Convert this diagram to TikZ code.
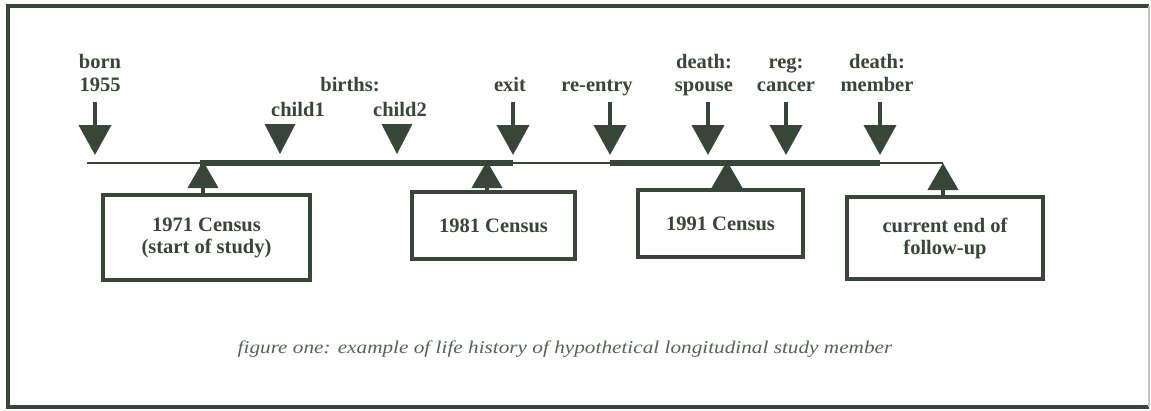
\documentclass[tikz,border=0pt]{standalone}
\usepackage{fontspec}
\setmainfont{Liberation Serif}
\newfontfamily\capfont[FakeStretch=1.18]{Liberation Serif}
\usetikzlibrary{arrows.meta}
\definecolor{ink}{RGB}{56,70,56}
\begin{document}
\begin{tikzpicture}[x=1pt,y=-1pt,
  lbl/.style={font=\fontsize{20.5}{23}\selectfont\bfseries, text=ink, anchor=base, inner sep=0pt},
  box/.style={draw=ink, line width=4pt, fill=white, font=\fontsize{20.5}{22}\selectfont\bfseries, text=ink, align=center, inner sep=0pt},
  darrow/.style={draw=ink, line width=4pt, -{Triangle[width=32pt,length=30pt]}},
  uarrow/.style={draw=ink, line width=4pt, -{Triangle[width=30pt,length=27pt]}},
  thick line/.style={draw=ink, line width=6pt},
  thin line/.style={draw=ink, line width=1.8pt},
  headonly/.style={fill=ink},
  caption/.style={font=\capfont\itshape\fontsize{18}{22}\selectfont, text=ink!85, anchor=base, inner sep=0pt}
]
\useasboundingbox (0,0) rectangle (1151,410);
% frame
\draw[ink, line width=3.5pt] (1149,6) -- (8,6) -- (8,407) -- (1149,407);
\draw[gray!45, line width=1.5pt] (1149,6) -- (1149,407);

% timeline coordinates
\coordinate (tstart) at (87,163);
\coordinate (t71) at (203,163);
\coordinate (t81) at (487,163);
\coordinate (texit) at (513,163);
\coordinate (tre) at (610,163);
\coordinate (t91) at (727,163);
\coordinate (tdeath) at (880,163);
\coordinate (tend) at (943,163);

% timeline
\draw[thin line] (tstart) -- (t71);
\draw[thick line] ([xshift=-3pt]t71) -- (texit);
\draw[thin line, line width=1.4pt] (texit) -- (tre);
\draw[thick line] (tre) -- (tdeath);
\draw[thin line, line width=1.4pt] (tdeath) -- (tend);

% labels
\node[lbl] (born) at (100,68) {born};
\node[lbl] (y1955) at (100,91) {1955};
\node[lbl] (births) at (350,91) {births:};
\node[lbl] (child1) at (298,116) {child1};
\node[lbl] (child2) at (400,116) {child2};
\node[lbl] (exit) at (510,91) {exit};
\node[lbl] (reentry) at (597,91) {re-entry};
\node[lbl] (death1) at (704,68) {death:};
\node[lbl] (spouse) at (704,91) {spouse};
\node[lbl] (reg) at (786,68) {reg:};
\node[lbl] (cancer) at (786,91) {cancer};
\node[lbl] (death2) at (877,68) {death:};
\node[lbl] (member) at (877,91) {member};

% down arrows
\coordinate (aborn) at (95,102);   \coordinate (aborntip) at (95,155);
\coordinate (aexit) at (513,102);  \coordinate (aexittip) at (513,155);
\coordinate (are) at (610,102);    \coordinate (aretip) at (610,155);
\coordinate (asp) at (708,102);    \coordinate (asptip) at (708,155);
\coordinate (aca) at (786,102);    \coordinate (acatip) at (786,155);
\coordinate (ame) at (880,102);    \coordinate (ametip) at (880,155);
\draw[darrow] (aborn) -- (aborntip);
\draw[darrow] (aexit) -- (aexittip);
\draw[darrow] (are) -- (aretip);
\draw[darrow] (asp) -- (asptip);
\draw[darrow] (aca) -- (acatip);
\draw[darrow] (ame) -- (ametip);
% head-only arrows
\coordinate (ac1tip) at (280,154);
\coordinate (ac2tip) at (397,154);
\fill[headonly] (ac1tip) -- ++(-15.5,-30) -- ++(31,0) -- cycle;
\fill[headonly] (ac2tip) -- ++(-15.5,-30) -- ++(31,0) -- cycle;

% boxes
\node[box, minimum width=207pt, minimum height=85pt] (b71) at (206.5,237.5) {1971 Census\\(start of study)};
\node[box, minimum width=163pt, minimum height=67pt] (b81) at (493.5,225.5) {1981 Census};
\node[box, minimum width=165pt, minimum height=67pt] (b91) at (720.5,223.5) {1991 Census};
\node[box, minimum width=196pt, minimum height=82pt] (bend) at (945,238) {current end of\\follow-up};

% up arrows
\draw[uarrow] (b71.north -| t71) -- ([yshift=2pt]t71);
\draw[uarrow] (b81.north -| t81) -- ([yshift=2pt]t81);
\draw[uarrow] (b91.north -| t91) -- ([yshift=2pt]t91);
\draw[uarrow] (bend.north -| tend) -- (tend);

% caption
\node[caption] (cap) at (565,353) {figure one: example of life history of hypothetical longitudinal study member};
\end{tikzpicture}
\end{document}
